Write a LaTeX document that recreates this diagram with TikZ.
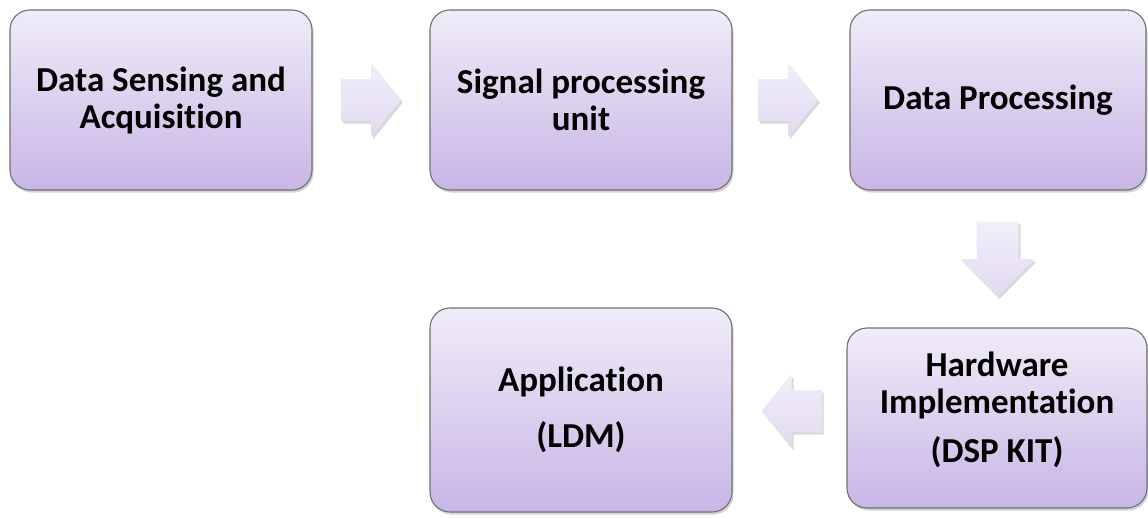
\documentclass[tikz,border=0pt]{standalone}
\usepackage{fontspec}
\setmainfont[Ligatures={NoCommon}]{Carlito}
\usetikzlibrary{shadows,calc}

\definecolor{boxtop}{HTML}{F0ECF8}
\definecolor{boxbot}{HTML}{C8B6E6}
\definecolor{boxline}{HTML}{707070}
\definecolor{arrtop}{HTML}{F1EEF9}
\definecolor{arrbot}{HTML}{E2DAF2}

\tikzset{
  stage/.style={
    rounded corners=20pt, draw=boxline, line width=1.1pt,
    top color=boxtop, bottom color=boxbot,
    drop shadow={shadow xshift=1.5pt, shadow yshift=-2.5pt, opacity=0.35},
    align=center, inner sep=0pt,
    font=\bfseries\fontsize{35}{37}\selectfont
  },
  pics/blockarrow/.style={code={
    \path[top color=arrtop, bottom color=arrbot,
          drop shadow={shadow xshift=2pt, shadow yshift=-2.5pt, opacity=0.3}]
      (-#1/2,-21) -- (0,-21) -- (0,-37) -- (#1/2,0)
      -- (0,37) -- (0,21) -- (-#1/2,21) -- cycle;
  }}
}

\begin{document}
\begin{tikzpicture}[x=1pt,y=-1pt]
  \useasboundingbox (0,0) rectangle (1148,519);

  % process stages
  \node[stage, minimum width=302pt, minimum height=180pt] (sense) at (161,100)
    {Data Sensing and\\Acquisition};
  \node[stage, minimum width=302pt, minimum height=180pt] (sigproc) at (581,100)
    {Signal processing\\unit};
  \node[stage, minimum width=296pt, minimum height=180pt] (dataproc) at (998,100)
    {Data Processing};
  \node[stage, minimum width=300pt, minimum height=180pt] (hw) at (997,418)
    {Hardware\\Implementation\\[12pt](DSP KIT)\rule[-21pt]{0pt}{1pt}};
  \node[stage, minimum width=302pt, minimum height=204pt] (app) at (581,410)
    {Application\\[19pt](LDM)};

  % block arrows between stages
  \pic at ($(sense.east)!0.5!(sigproc.west)$) {blockarrow=60};
  \pic at ($(sigproc.east)!0.5!(dataproc.west)+(-3,0)$) {blockarrow=60};
  \pic[rotate=-90] at ($(dataproc.south)!0.5!(hw.north)$) {blockarrow=75};
  \pic[rotate=180] at ($(hw.west)!0.5!(app.east)+(2,-3)$) {blockarrow=60};
\end{tikzpicture}
\end{document}
